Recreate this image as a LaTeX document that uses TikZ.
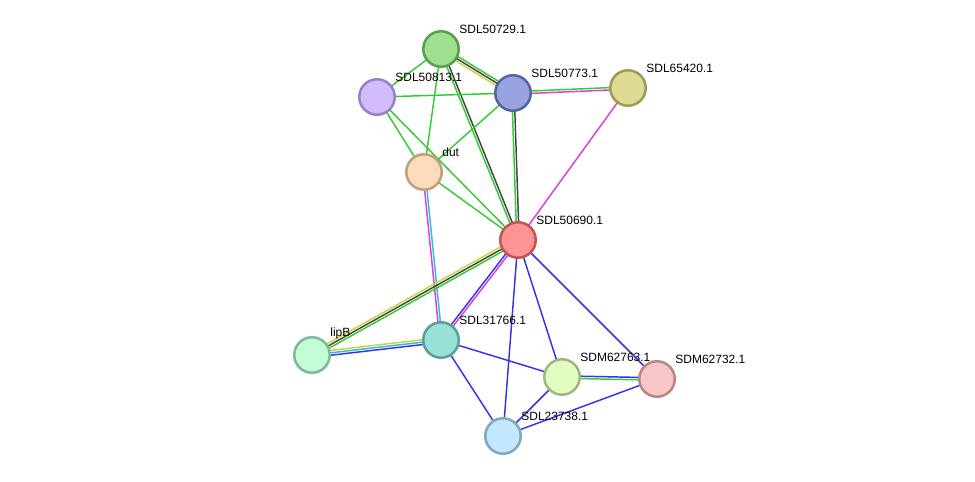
\documentclass[tikz,border=0pt]{standalone}
\usepackage{fontspec}
\setmainfont{Liberation Sans}
\usetikzlibrary{calc,backgrounds}

\definecolor{nbgreen}{HTML}{33CC33}
\definecolor{coexp}{HTML}{444444}
\definecolor{txtmine}{HTML}{C8D43A}
\definecolor{expmag}{HTML}{D93FD9}
\definecolor{dbcyan}{HTML}{33BBDD}
\definecolor{cooblue}{HTML}{3333EE}

% edge between two named nodes, shifted sideways by #1
\newcommand{\lnk}[4][0pt]{\draw[edge,#4] ($(#2)!#1!90:(#3)$) -- ($(#3)!#1!-90:(#2)$);}

\begin{document}
\begin{tikzpicture}[x=0.75pt,y=-0.75pt,
	prot/.style={circle,minimum size=26.6pt,inner sep=0pt,line width=1.9pt},
	lbl/.style={font=\fontsize{9}{10}\selectfont,inner sep=0pt,xshift=3.5pt,yshift=1.5pt},
	edge/.style={line width=1.1pt}]
	\useasboundingbox (0,0) rectangle (975,482);
	% proteins
	\node[prot,fill={rgb,255:red,159;green,223;blue,144},draw={rgb,255:red,95;green,155;blue,80},label={[lbl]45:SDL50729.1}] (p50729) at (441,49) {};
	\node[prot,fill={rgb,255:red,210;green,188;blue,251},draw={rgb,255:red,150;green,130;blue,200},label={[lbl]45:SDL50813.1}] (p50813) at (377,97) {};
	\node[prot,fill={rgb,255:red,152;green,163;blue,224},draw={rgb,255:red,86;green,100;blue,160},label={[lbl]45:SDL50773.1}] (p50773) at (513,93) {};
	\node[prot,fill={rgb,255:red,222;green,219;blue,149},draw={rgb,255:red,160;green,156;blue,88},label={[lbl]45:SDL65420.1}] (p65420) at (628,88) {};
	\node[prot,fill={rgb,255:red,253;green,220;blue,188},draw={rgb,255:red,192;green,160;blue,128},label={[lbl]45:dut}] (dut) at (424,172) {};
	\node[prot,fill={rgb,255:red,253;green,147;blue,147},draw={rgb,255:red,192;green,85;blue,85},label={[lbl]45:SDL50690.1}] (p50690) at (518,240) {};
	\node[prot,fill={rgb,255:red,195;green,253;blue,214},draw={rgb,255:red,128;green,184;blue,152},label={[lbl]45:lipB}] (lipB) at (312,355) {};
	\node[prot,fill={rgb,255:red,152;green,224;blue,216},draw={rgb,255:red,90;green,160;blue,152},label={[lbl]45:SDL31766.1}] (p31766) at (441,340) {};
	\node[prot,fill={rgb,255:red,226;green,253;blue,193},draw={rgb,255:red,160;green,184;blue,128},label={[lbl]45:SDM62763.1}] (p62763) at (562,377) {};
	\node[prot,fill={rgb,255:red,247;green,198;blue,198},draw={rgb,255:red,184;green,136;blue,136},label={[lbl]45:SDM62732.1}] (p62732) at (657,379) {};
	\node[prot,fill={rgb,255:red,194;green,232;blue,253},draw={rgb,255:red,128;green,168;blue,192},label={[lbl]45:SDL23738.1}] (p23738) at (503,436) {};
	% links
	\begin{pgfonlayer}{background}
	\lnk[1.8pt]{p50729}{p50773}{nbgreen}
	\lnk{p50729}{p50773}{coexp}
	\lnk[-1.8pt]{p50729}{p50773}{txtmine}
	\lnk{p50729}{p50813}{nbgreen}
	\lnk{p50729}{dut}{nbgreen}
	\lnk[0.9pt]{p50729}{p50690}{coexp}
	\lnk[-0.9pt]{p50729}{p50690}{nbgreen}
	\lnk{p50813}{p50773}{nbgreen}
	\lnk{p50813}{dut}{nbgreen}
	\lnk{p50813}{p50690}{nbgreen}
	\lnk[0.9pt]{p50773}{p65420}{nbgreen}
	\lnk[-0.9pt]{p50773}{p65420}{expmag}
	\lnk{p50773}{dut}{nbgreen}
	\lnk[0.9pt]{p50773}{p50690}{coexp}
	\lnk[-0.9pt]{p50773}{p50690}{nbgreen}
	\lnk{p65420}{p50690}{expmag}
	\lnk{dut}{p50690}{nbgreen}
	\lnk[0.9pt]{dut}{p31766}{dbcyan}
	\lnk[-0.9pt]{dut}{p31766}{expmag}
	\lnk[-1.8pt]{p50690}{lipB}{txtmine}
	\lnk{p50690}{lipB}{coexp}
	\lnk[1.8pt]{p50690}{lipB}{nbgreen}
	\lnk[-0.9pt]{p50690}{p31766}{cooblue}
	\lnk[0.9pt]{p50690}{p31766}{expmag}
	\lnk{p50690}{p23738}{cooblue}
	\lnk{p50690}{p62763}{cooblue}
	\lnk{p50690}{p62732}{cooblue}
	\lnk[1.8pt]{lipB}{p31766}{txtmine}
	\lnk{lipB}{p31766}{dbcyan}
	\lnk[-1.8pt]{lipB}{p31766}{cooblue}
	\lnk{p31766}{p62763}{cooblue}
	\lnk{p31766}{p23738}{cooblue}
	\lnk[0.9pt]{p62763}{p62732}{cooblue}
	\lnk[-0.9pt]{p62763}{p62732}{nbgreen}
	\lnk{p62763}{p23738}{cooblue}
	\lnk{p62732}{p23738}{cooblue}
	\end{pgfonlayer}
\end{tikzpicture}
\end{document}
